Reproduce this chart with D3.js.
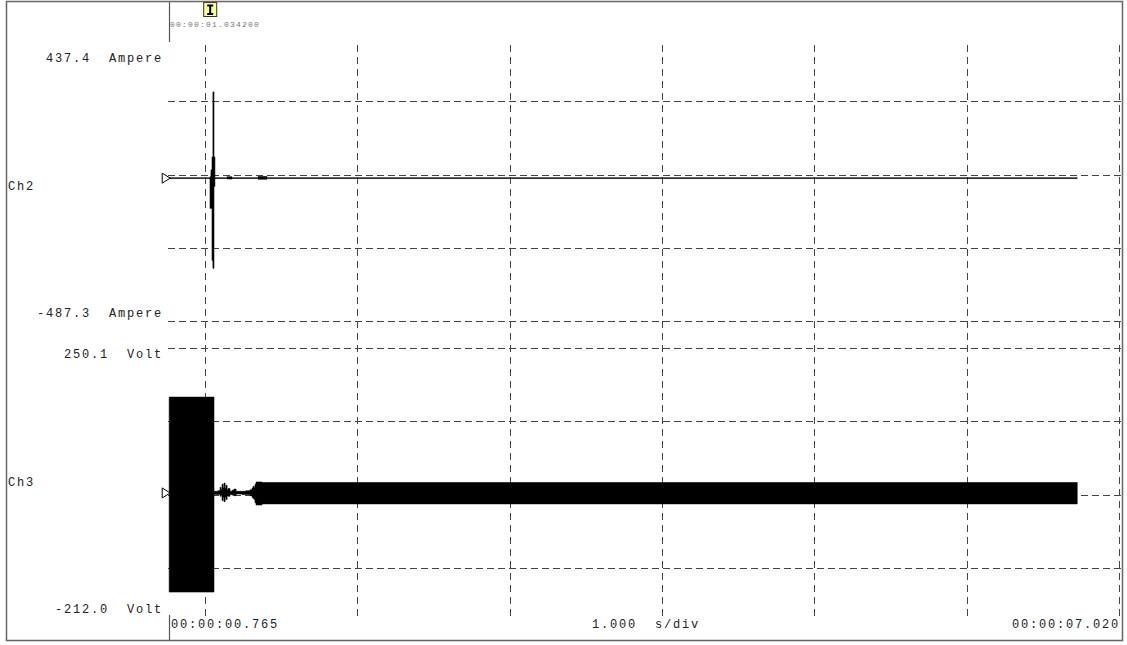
<!DOCTYPE html>
<html>
<head>
<meta charset="utf-8">
<script src="https://cdn.jsdelivr.net/npm/d3@7"></script>
<style>
  body { margin: 0; background: #fff; }
  text { font-family: "Liberation Mono", "DejaVu Sans Mono", monospace; white-space: pre; }
</style>
</head>
<body>
<div id="scope"></div>
<script>
// time window (s)
const timeStart = 0.765, timeEnd = 7.020;
const timeLabels = ["00:00:00.765", "1.000  s/div", "00:00:07.020"];
const gridSeconds = [1, 2, 3, 4, 5, 6, 7];
const cursorTime = 1.0342;
const cursorLabel = "00:00:01.034200";

// channel names / ranges
const channelNames = ["Ch2", "Ch3"];
const ch2Range = [-487.3, 437.4];
const ch3Range = [-212.0, 250.1];
const ch2Labels = ["437.4  Ampere", "-487.3  Ampere"];
const ch3Labels = ["250.1  Volt", "-212.0  Volt"];

// Ch2 current envelope (step after): time, max, min (A)
const ch2Time = [0.765, 1.033, 1.039, 1.046, 1.052, 1.059, 1.065, 1.144, 1.177, 1.348, 1.407, 6.726];
const ch2Max  = [1.5,   5,     30,    77,    314,   77,    1.5,   5,     1.5,   6,     1.5,   1.5];
const ch2Min  = [-1.5,  -110,  -110,  -300,  -328,  -30,   -1.5,  -3,    -1.5,  -4,    -1.5,  -1.5];

// Ch3 voltage envelope (step after): time, max, min (V)
const ch3Time = [0.765, 1.059, 1.085, 1.099, 1.106, 1.112, 1.119, 1.125, 1.132, 1.138, 1.145, 1.151, 1.164, 1.177, 1.190, 1.204, 1.217, 1.243, 1.269, 1.296, 1.309, 1.315, 1.322, 1.328, 1.335, 1.355, 1.374, 1.394, 6.726];
const ch3Max  = [175,   3,     4,     10,    6,     16,    9,     18,    8,     14,    6,     8,     3,     5,     7,     3,     3,     3,     4,     6,     9,     12,    10,    16,    20,    20,    19,    19,    19];
const ch3Min  = [-181,  -3,    -3,    -6,    -4,    -14,   -8,    -16,   -7,    -12,   -5,    -6,    -3,    -4,    -5,    -2,    -2,    -3,    -3,    -5,    -8,    -10,   -12,   -18,   -22,   -22,   -20,   -20,   -20];

const W = 1127, H = 645;
const left = 169.2, right = 1122;

const svg = d3.select("#scope").append("svg")
    .attr("width", W)
    .attr("height", H);

const x = d3.scaleLinear().domain([timeStart, timeEnd]).range([left, right]);
const y2 = d3.scaleLinear().domain(ch2Range).range([312, 58]);
const y3 = d3.scaleLinear().domain(ch3Range).range([609, 356]);

// division scales for the two panels (4 div each)
const div2 = d3.scaleLinear().domain([0, 4]).range([28, 321]);
const div3 = d3.scaleLinear().domain([0, 4]).range([348, 641]);

const grid = svg.append("g")
    .attr("stroke", "#444")
    .attr("stroke-width", 1)
    .attr("fill", "none");

// vertical dashed grid
grid.selectAll("line.v")
    .data(gridSeconds)
    .enter().append("line")
    .attr("x1", d => Math.round(x(d)) + 0.5)
    .attr("x2", d => Math.round(x(d)) + 0.5)
    .attr("y1", 45)
    .attr("y2", 619)
    .attr("stroke-dasharray", "7,5");

// horizontal dashed grid
const hLines = [1, 2, 3, 4].map(d => div2(d)).concat([0, 1, 2, 3].map(d => div3(d)));
grid.selectAll("line.h")
    .data(hLines)
    .enter().append("line")
    .attr("x1", 168)
    .attr("x2", right)
    .attr("y1", d => Math.round(d) + 0.5)
    .attr("y2", d => Math.round(d) + 0.5)
    .attr("stroke-dasharray", "7,4");

// envelopes
function envelope(times, maxs, mins, yScale) {
    const pts = times.map((t, i) => ({t: t, hi: maxs[i], lo: mins[i]}));
    return d3.area()
        .x(d => x(d.t))
        .y0(d => yScale(d.lo))
        .y1(d => yScale(d.hi))
        .curve(d3.curveStepAfter)(pts);
}

svg.append("path")
    .attr("d", envelope(ch2Time, ch2Max, ch2Min, y2))
    .attr("fill", "#000")
    .attr("stroke", "#000")
    .attr("stroke-width", 0.6);

svg.append("path")
    .attr("d", envelope(ch3Time, ch3Max, ch3Min, y3))
    .attr("fill", "#000")
    .attr("stroke", "#000")
    .attr("stroke-width", 0.6);

// zero markers (triangles)
[y2(0), y3(0)].forEach(yy => {
    svg.append("path")
        .attr("d", `M${left - 7},${yy - 5} L${left + 1},${yy} L${left - 7},${yy + 5} Z`)
        .attr("fill", "#fff")
        .attr("stroke", "#000")
        .attr("stroke-width", 1);
});

// labels
const lab = svg.append("g")
    .attr("font-size", "12px")
    .attr("letter-spacing", "1.8px")
    .attr("fill", "#222");

lab.append("text").attr("x", 163).attr("y", 62).attr("text-anchor", "end").text(ch2Labels[0]);
lab.append("text").attr("x", 163).attr("y", 317).attr("text-anchor", "end").text(ch2Labels[1]);
lab.append("text").attr("x", 163).attr("y", 358).attr("text-anchor", "end").text(ch3Labels[0]);
lab.append("text").attr("x", 163).attr("y", 613).attr("text-anchor", "end").text(ch3Labels[1]);
lab.append("text").attr("x", 8).attr("y", 190).text(channelNames[0]);
lab.append("text").attr("x", 8).attr("y", 486).text(channelNames[1]);

lab.append("text").attr("x", 171).attr("y", 628).text(timeLabels[0]);
lab.append("text").attr("x", 592).attr("y", 628).text(timeLabels[1]);
lab.append("text").attr("x", 1120).attr("y", 628).attr("text-anchor", "end").text(timeLabels[2]);

// start-time rulers
svg.append("line").attr("x1", 169.5).attr("x2", 169.5).attr("y1", 2).attr("y2", 42)
    .attr("stroke", "#555").attr("stroke-width", 1.2);
svg.append("line").attr("x1", 169.5).attr("x2", 169.5).attr("y1", 615).attr("y2", 640)
    .attr("stroke", "#555").attr("stroke-width", 1.2);

// cursor marker
const cx = x(cursorTime);
svg.append("rect")
    .attr("x", cx - 6.5).attr("y", 2.5)
    .attr("width", 13).attr("height", 14)
    .attr("fill", "#ffff99")
    .attr("stroke", "#333");
svg.append("path")
    .attr("d", `M${cx - 3},5.5 H${cx + 3} M${cx},5.5 V14 M${cx - 3},14 H${cx + 3}`)
    .attr("stroke", "#000")
    .attr("stroke-width", 2)
    .attr("fill", "none");
svg.append("text")
    .attr("x", 170).attr("y", 27)
    .attr("font-size", "8px")
    .attr("letter-spacing", "1.2px")
    .attr("fill", "#777")
    .text(cursorLabel);

// frame
svg.append("rect")
    .attr("x", 6.5).attr("y", 1.5)
    .attr("width", 1116).attr("height", 639)
    .attr("fill", "none")
    .attr("stroke", "#666")
    .attr("stroke-width", 1.5);
</script>
</body>
</html>
